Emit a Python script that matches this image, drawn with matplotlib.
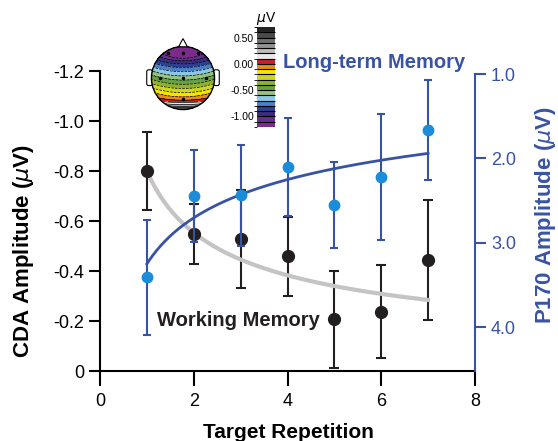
import matplotlib
matplotlib.use("Agg")
import matplotlib.pyplot as plt
import numpy as np
from matplotlib.colors import ListedColormap, BoundaryNorm
from matplotlib.patches import Circle, Polygon, FancyBboxPatch

plt.rcParams['font.family'] = ['Liberation Sans', 'DejaVu Sans']

# repetitions 1..7
reps = [1, 2, 3, 4, 5, 6, 7]

# CDA amplitude (left axis, uV) with error bars
cda_mean = [-0.80, -0.547, -0.528, -0.46, -0.207, -0.237, -0.443]
cda_err = [0.156, 0.12, 0.195, 0.158, 0.195, 0.186, 0.24]

# P170 amplitude (right axis, uV) with error bars
p170_mean = [3.41, 2.449, 2.437, 2.098, 2.552, 2.224, 1.663]
p170_err = [0.68, 0.545, 0.60, 0.58, 0.51, 0.745, 0.59]

# power-law trend lines y = a * x**b
wm_fit = (-0.80, -0.532)
ltm_fit = (3.25, -0.265)

cda_ticks = [0, -0.2, -0.4, -0.6, -0.8, -1.0, -1.2]
cda_ticklabels = ['0', '-0.2', '-0.4', '-0.6', '-0.8', '-1.0', '-1.2']
p170_ticks = [1, 2, 3, 4]
p170_ticklabels = ['1.0', '2.0', '3.0', '4.0']
x_ticks = [0, 2, 4, 6, 8]

# topography colour scale
topo_levels = np.round(np.arange(-1.2, 0.71, 0.1), 2)
topo_colors = ['#7c2b8d', '#66308a', '#3d2c7c', '#2d3f93', '#4b80c6', '#8dc7e4',
               '#93c283', '#68a04a', '#8db232', '#cbd524', '#f3e600', '#e98a1c',
               '#c9202a', '#e8e8e8', '#bcbcbc', '#939393', '#6f6f6f', '#4a4a4a',
               '#252525']

BLUE = '#3953a4'
LIGHTBLUE = '#1b8dd8'
DARK = '#231f20'

fig = plt.figure(figsize=(5.58, 4.41), dpi=100)
ax = fig.add_axes([100/558, 70/441, 375/558, 300/441])
ax2 = ax.twinx()

# working memory (CDA)
ax.errorbar(reps, cda_mean, yerr=cda_err, fmt='none', ecolor=DARK,
            elinewidth=1.5, capsize=3.5, capthick=1.5, zorder=2)
xs = np.linspace(1, 7, 200)
ax.plot(xs, wm_fit[0] * xs ** wm_fit[1], color='#c4c4c4', lw=3, zorder=3)
ax.plot(reps, cda_mean, 'o', color=DARK, ms=8.5, zorder=4)

ax.set_xlim(0, 8)
ax.set_ylim(0, -1.2)
ax.set_xticks(x_ticks)
ax.set_yticks(cda_ticks)
ax.set_yticklabels(cda_ticklabels)
ax.tick_params(axis='both', labelsize=13, width=1.5, length=8, direction='out')
ax.tick_params(axis='x', length=11, pad=5)
for s in ['top', 'right']:
    ax.spines[s].set_visible(False)
for s in ['left', 'bottom']:
    ax.spines[s].set_linewidth(1.5)

# long-term memory (P170)
ax2.errorbar(reps, p170_mean, yerr=p170_err, fmt='none', ecolor=BLUE,
             elinewidth=1.5, capsize=3, capthick=1.5, zorder=2)
ax2.plot(xs, ltm_fit[0] * xs ** ltm_fit[1], color=BLUE, lw=2, zorder=3)
ax2.plot(reps, p170_mean, 'o', color=LIGHTBLUE, ms=7.5, zorder=4)
ax2.set_ylim(4.52, 0.964)
ax2.set_yticks(p170_ticks)
ax2.set_yticklabels(p170_ticklabels)
ax2.tick_params(axis='y', labelsize=13, width=1.5, length=8, colors=BLUE)
for s in ['top', 'left', 'bottom']:
    ax2.spines[s].set_visible(False)
ax2.spines['right'].set_color(BLUE)
ax2.spines['right'].set_linewidth(1.5)
ax2.spines['right'].set_bounds(1.0, 4.52)

fig.text(24/558, 1 - 251/441, r'CDA Amplitude ($\mu$V)', rotation=90,
         ha='center', va='center', fontsize=16, fontweight='bold')
fig.text(545/558, 1 - 215/441, r'P170 Amplitude ($\mu$V)', rotation=90,
         ha='center', va='center', fontsize=16, fontweight='bold', color=BLUE)
fig.text(288/558, 1 - 432/441, 'Target Repetition', ha='center', va='center',
         fontsize=15, fontweight='bold')
fig.text(283/558, 1 - 62/441, 'Long-term Memory', ha='left', va='center',
         fontsize=14.5, fontweight='bold', color=BLUE)
fig.text(157/558, 1 - 321/441, 'Working Memory', ha='left', va='center',
         fontsize=14.5, fontweight='bold', color=DARK)

# scalp map inset
hax = fig.add_axes([142/558, 1 - 119/441, 82/558, 82/441])
hax.set_xlim(-1.3, 1.3)
hax.set_ylim(-1.3, 1.3)
hax.set_aspect('equal')
hax.axis('off')
g = np.linspace(-1.02, 1.02, 240)
gx, gy = np.meshgrid(g, g)
field = -0.55 - 0.75 * gy + 2.0 * np.clip(-gy - 0.6, 0, None) ** 2 + 0.12 * gx ** 2
field -= 0.12 * np.exp(-(gx ** 2 / 0.3 + (gy - 0.75) ** 2 / 0.04))
field = np.clip(field, -1.199, 0.699)
field = np.ma.masked_where(gx ** 2 + gy ** 2 > 1.0, field)
cmap = ListedColormap(topo_colors)
norm = BoundaryNorm(topo_levels, cmap.N)
cf = hax.contourf(gx, gy, field, levels=topo_levels, cmap=cmap, norm=norm)
hax.contour(gx, gy, field, levels=topo_levels, colors='black', linewidths=0.5)
hax.add_patch(Circle((0, 0), 1.0, fill=False, ec='black', lw=1))
hax.add_patch(Polygon([(-0.14, 0.99), (0, 1.25), (0.14, 0.99)], closed=True,
                      fc='white', ec='black', lw=0.8))
for sx in (-1, 1):
    hax.add_patch(FancyBboxPatch((sx * 1.06 - 0.07, -0.22), 0.14, 0.46,
                                 boxstyle='round,pad=0.02,rounding_size=0.06',
                                 fc='white', ec='black', lw=0.8, zorder=0))
ex = [-0.47, 0, 0.47, -0.72, 0, 0.72, 0]
ey = [0.79, 0.79, 0.79, 0, 0, 0, -0.68]
hax.plot(ex, ey, 'o', color='black', ms=1.5)

# colour bar
cax = fig.add_axes([257/558, 1 - 127/441, 18/558, 100/441])
cb = fig.colorbar(cf, cax=cax, ticks=[0.5, 0, -0.5, -1.0], drawedges=True)
cb.ax.yaxis.set_ticks_position('left')
cb.ax.set_yticklabels(['0.50', '0.00', '-0.50', '-1.00'])
cb.ax.tick_params(labelsize=7.5, length=0, pad=2)
cb.outline.set_visible(False)
cb.dividers.set_color('black')
cb.dividers.set_linewidth(0.8)
cax.set_title(r'$\mu$V', fontsize=10, pad=1)

fig.savefig('out.png', dpi=100)
